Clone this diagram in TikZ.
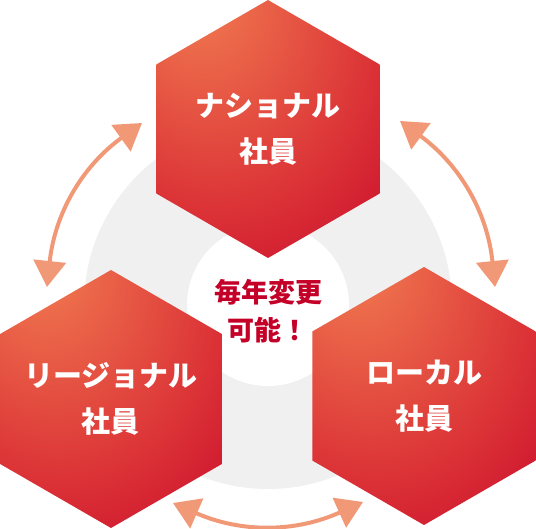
\documentclass[tikz,border=0pt]{standalone}
\usepackage{fontspec}
\newfontfamily\jpfont{Noto Sans CJK JP}
\usetikzlibrary{shapes,arrows.meta}
\definecolor{hexlight}{RGB}{237,110,76}
\definecolor{hexmid}{RGB}{220,52,55}
\definecolor{hexdark}{RGB}{196,0,40}
\definecolor{ringgray}{RGB}{240,240,240}
\definecolor{arrowpeach}{RGB}{241,153,119}
\pgfdeclareradialshading{hexshade}{\pgfpoint{-17bp}{29bp}}{color(0bp)=(hexlight); color(8bp)=(hexlight); color(34bp)=(hexmid); color(58bp)=(hexdark); color(100bp)=(hexdark)}
\tikzset{hexagon/.style={regular polygon, regular polygon sides=6, shape border rotate=30, minimum size=258pt, inner sep=0pt, shade, shading=hexshade}}
\tikzset{hexlabel/.style={text=white, align=center, font=\jpfont\bfseries\fontsize{29}{46}\selectfont}}
\tikzset{cycleline/.style={draw=arrowpeach, line width=4pt, {Triangle[length=26pt,width=32pt]}-{Triangle[length=26pt,width=32pt]}}}
\tikzset{middletext/.style={text=hexdark, align=center, font=\jpfont\bfseries\fontsize{27}{38}\selectfont}}

\begin{document}
\begin{tikzpicture}[x=1pt, y=-1pt]
        \useasboundingbox (0,0) rectangle (536,529);
        % ring behind everything
        \coordinate (ringc) at (268,305);
        \fill[ringgray] (ringc) circle[radius=184];
        \fill[white] (ringc) circle[radius=81];

        \coordinate (nr1) at (142,123);
        \coordinate (nr2) at (47,287);
        \coordinate (nl1) at (400,121);
        \coordinate (nl2) at (495,287);
        \coordinate (rl1) at (173,503);
        \coordinate (rl2) at (363,502);

        \path[cycleline] (nr1) to[bend right=24] (nr2);
        \path[cycleline] (nl1) to[bend left=24]  (nl2);
        \path[cycleline] (rl1) to[bend right=24] (rl2);

        \node[hexagon] (national) at (268,129) {};
        \node[hexagon] (regional) at (111,399) {};
        \node[hexagon] (local)    at (424,396) {};
        \node[hexlabel] (nationaltext) at (national) {ナショナル\\社員};
        \node[hexlabel] (regionaltext) at (regional) {リージョナル\\社員};
        \node[hexlabel] (localtext)    at (local)    {ローカル\\社員};

        \node[middletext] (change) at (268,311) {毎年変更\\可能！};
\end{tikzpicture}
\end{document}
